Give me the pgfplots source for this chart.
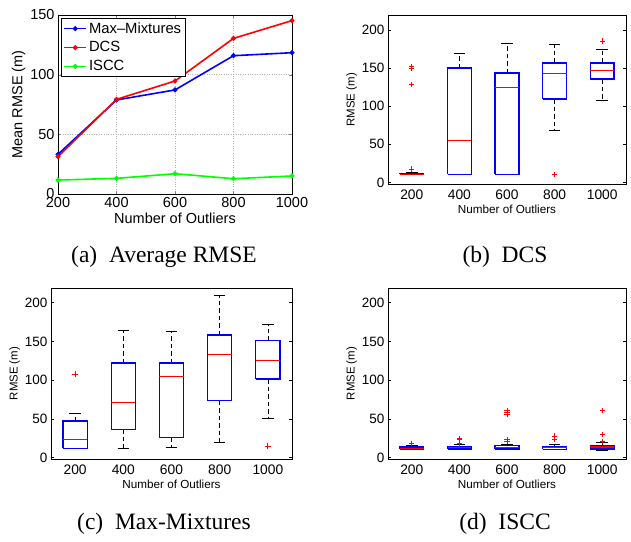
\documentclass[border=0pt]{standalone}
\usepackage{pgfplots}
\pgfplotsset{compat=1.18}
\usepackage{fontspec}
\setmainfont{Liberation Sans}
\newfontfamily\capfont{Liberation Serif}

\pgfplotsset{
  boxaxis/.style={
    anchor=south west, scale only axis,
    width=238pt,
    xmin=0.5, xmax=5.5, ymin=-2, ymax=219,
    xtick={1,2,3,4,5}, xticklabels={200,400,600,800,1000},
    ytick={0,50,100,150,200},
    tick align=inside, ytick pos=both,
    xtick style={draw=none}, ytick style={black, line width=0.5pt},
    major tick length=3pt,
    axis line style={line width=0.9pt},
    unbounded coords=jump,
    /pgf/number format/assume math mode=true,
    xticklabel style={font=\fontsize{13.8}{15}\selectfont, yshift=-2pt},
    yticklabel style={font=\fontsize{13.5}{15}\selectfont},
    xlabel={Number of Outliers}, ylabel={RMSE (m)},
    xlabel style={font=\fontsize{11.7}{13}\selectfont, yshift=1pt},
    ylabel style={font=\fontsize{11.4}{13}\selectfont, yshift=-2pt},
  },
  whisk/.style={black, line width=0.8pt, dash pattern=on 4.5pt off 3pt},
  cap/.style={black, line width=1pt},
  boxes/.style={blue, line width=1.25pt},
  med/.style={red, line width=1.1pt},
  outl/.style={only marks, mark=+, mark size=2.6pt, mark options={red, line width=1pt}},
}

\begin{document}
\begin{tikzpicture}
\path[use as bounding box] (0,0) rectangle (631pt,541pt);

% (a) mean RMSE
\begin{axis}[
  at={(58pt,347pt)}, anchor=south west, scale only axis,
  width=234pt, height=179pt,
  xmin=200, xmax=1000, ymin=0, ymax=150,
  xtick={200,400,600,800,1000}, ytick={0,50,100,150},
  /pgf/number format/1000 sep={},
  /pgf/number format/assume math mode=true,
  grid=major, grid style={dotted, gray!60, line width=0.4pt},
  tick align=inside, tick pos=both, major tick length=3pt,
  axis line style={line width=0.9pt},
  tick label style={font=\fontsize{14.5}{16}\selectfont},
  xlabel={Number of Outliers}, ylabel={Mean RMSE (m)},
  xlabel style={font=\fontsize{14.5}{16}\selectfont, yshift=2pt},
  ylabel style={font=\fontsize{14.5}{16}\selectfont, yshift=-2pt},
  legend style={at={(0.013,0.983)}, anchor=north west, draw=black,
    line width=0.8pt, font=\fontsize{14.8}{16}\selectfont,
    inner sep=2pt, row sep=3pt, cells={anchor=west}},
  legend image code/.code={
    \draw[mark repeat=2, mark phase=2] plot coordinates {(0pt,0pt) (11pt,0pt) (22pt,0pt)};},
]
\addplot[blue, line width=1.6pt, mark=*, mark size=1.6pt] coordinates {
  (200,33.2) (400,78.8) (600,87.2) (800,115.9) (1000,118.4)};
\addlegendentry{Max--Mixtures}
\addplot[red, line width=1.6pt, mark=*, mark size=1.6pt] coordinates {
  (200,31.3) (400,79.3) (600,94.7) (800,130.4) (1000,145.3)};
\addlegendentry{DCS}
\addplot[green, line width=1.6pt, mark=*, mark size=1.6pt] coordinates {
  (200,11.7) (400,13.1) (600,17.0) (800,12.8) (1000,15.1)};
\addlegendentry{ISCC}
\end{axis}

% (b) DCS
\begin{axis}[boxaxis, at={(388pt,357pt)}, height=168.5pt]
% whiskers
\addplot[whisk] coordinates {
  (1,12) (1,12.5) (nan,nan)
  (2,150) (2,169.5) (nan,nan)
  (3,143.5) (3,182.5) (nan,nan)
  (4,156.7) (4,181.2) (nan,nan) (4,109.4) (4,68.7) (nan,nan)
  (5,156.7) (5,174.2) (nan,nan) (5,135.7) (5,107.2)};
% caps
\addplot[cap] coordinates {
  (0.88,12.5) (1.12,12.5) (nan,nan) (0.88,10) (1.12,10) (nan,nan)
  (1.88,169.5) (2.12,169.5) (nan,nan) (1.88,10.5) (2.12,10.5) (nan,nan)
  (2.88,182.5) (3.12,182.5) (nan,nan) (2.88,10.5) (3.12,10.5) (nan,nan)
  (3.88,181.2) (4.12,181.2) (nan,nan) (3.88,68.7) (4.12,68.7) (nan,nan)
  (4.88,174.2) (5.12,174.2) (nan,nan) (4.88,107.2) (5.12,107.2)};
% boxes
\addplot[boxes] coordinates {
  (0.75,10.5) (1.25,10.5) (1.25,12) (0.75,12) (0.75,10.5) (nan,nan)
  (1.75,10.5) (2.25,10.5) (2.25,150) (1.75,150) (1.75,10.5) (nan,nan)
  (2.75,10.5) (3.25,10.5) (3.25,143.5) (2.75,143.5) (2.75,10.5) (nan,nan)
  (3.75,109.4) (4.25,109.4) (4.25,156.7) (3.75,156.7) (3.75,109.4) (nan,nan)
  (4.75,135.7) (5.25,135.7) (5.25,156.7) (4.75,156.7) (4.75,135.7)};
% medians
\addplot[med] coordinates {
  (0.75,11) (1.25,11) (nan,nan) (1.75,55.6) (2.25,55.6) (nan,nan)
  (2.75,124.5) (3.25,124.5) (nan,nan) (3.75,143.5) (4.25,143.5) (nan,nan)
  (4.75,147) (5.25,147)};
% outliers
\addplot[outl] coordinates {(1,152) (1,150) (1,128) (1,17.6) (4,10.9) (5,185.5)};
\end{axis}

% (c) Max-Mixtures
\begin{axis}[boxaxis, at={(51pt,82pt)}, width=241pt, height=171pt]
\addplot[whisk] coordinates {
  (1,47) (1,57) (nan,nan) (1,11.6) (1,11) (nan,nan)
  (2,122) (2,163.8) (nan,nan) (2,36.6) (2,11.6) (nan,nan)
  (3,122) (3,162.9) (nan,nan) (3,26) (3,12.5) (nan,nan)
  (4,158.2) (4,209.5) (nan,nan) (4,73.3) (4,19) (nan,nan)
  (5,150.9) (5,171.6) (nan,nan) (5,101.3) (5,50.9)};
\addplot[cap] coordinates {
  (0.88,57) (1.12,57) (nan,nan) (0.88,11) (1.12,11) (nan,nan)
  (1.88,163.8) (2.12,163.8) (nan,nan) (1.88,11.6) (2.12,11.6) (nan,nan)
  (2.88,162.9) (3.12,162.9) (nan,nan) (2.88,12.5) (3.12,12.5) (nan,nan)
  (3.88,209.5) (4.12,209.5) (nan,nan) (3.88,19) (4.12,19) (nan,nan)
  (4.88,171.6) (5.12,171.6) (nan,nan) (4.88,50.9) (5.12,50.9)};
\addplot[boxes] coordinates {
  (0.75,11.6) (1.25,11.6) (1.25,47) (0.75,47) (0.75,11.6) (nan,nan)
  (1.75,36.6) (2.25,36.6) (2.25,122) (1.75,122) (1.75,36.6) (nan,nan)
  (2.75,26) (3.25,26) (3.25,122) (2.75,122) (2.75,26) (nan,nan)
  (3.75,73.3) (4.25,73.3) (4.25,158.2) (3.75,158.2) (3.75,73.3) (nan,nan)
  (4.75,101.3) (5.25,101.3) (5.25,150.9) (4.75,150.9) (4.75,101.3)};
\addplot[med] coordinates {
  (0.75,22.8) (1.25,22.8) (nan,nan) (1.75,71.6) (2.25,71.6) (nan,nan)
  (2.75,104.7) (3.25,104.7) (nan,nan) (3.75,133.6) (4.25,133.6) (nan,nan)
  (4.75,125) (5.25,125)};
\addplot[outl] coordinates {(1,107.8) (5,14.7)};
\end{axis}

% (d) ISCC
\begin{axis}[boxaxis, at={(388pt,82pt)}, height=171pt]
\addplot[whisk] coordinates {
  (1,13.5) (1,15.5) (nan,nan)
  (2,14.2) (2,16.8) (nan,nan)
  (3,15.5) (3,16.8) (nan,nan)
  (4,14.2) (4,16.8) (nan,nan)
  (5,15.5) (5,19.8)};
\addplot[cap] coordinates {
  (0.88,15.5) (1.12,15.5) (nan,nan) (0.88,10.8) (1.12,10.8) (nan,nan)
  (1.88,16.8) (2.12,16.8) (nan,nan) (1.88,10.8) (2.12,10.8) (nan,nan)
  (2.88,16.8) (3.12,16.8) (nan,nan) (2.88,10.8) (3.12,10.8) (nan,nan)
  (3.88,16.8) (4.12,16.8) (nan,nan) (3.88,9.9) (4.12,9.9) (nan,nan)
  (4.88,19.8) (5.12,19.8) (nan,nan) (4.88,9.5) (5.12,9.5)};
\addplot[boxes] coordinates {
  (0.75,10.8) (1.25,10.8) (1.25,13.5) (0.75,13.5) (0.75,10.8) (nan,nan)
  (1.75,11) (2.25,11) (2.25,14.2) (1.75,14.2) (1.75,11) (nan,nan)
  (2.75,11) (3.25,11) (3.25,15.5) (2.75,15.5) (2.75,11) (nan,nan)
  (3.75,10.5) (4.25,10.5) (4.25,14.2) (3.75,14.2) (3.75,10.5) (nan,nan)
  (4.75,10.8) (5.25,10.8) (5.25,15.5) (4.75,15.5) (4.75,10.8)};
\addplot[med] coordinates {
  (0.75,12) (1.25,12) (nan,nan) (1.75,12.8) (2.25,12.8) (nan,nan)
  (2.75,12.5) (3.25,12.5) (nan,nan) (3.75,12.3) (4.25,12.3) (nan,nan)
  (4.75,13.5) (5.25,13.5)};
\addplot[outl] coordinates {
  (1,18.5) (2,25) (2,23) (2,17.5)
  (3,61.2) (3,58.6) (3,55.6) (3,23.7) (3,21.1)
  (4,27.6) (4,23.7) (5,60.8) (5,30.1) (5,20.7)};
\end{axis}

% sub-captions
\node[font=\capfont\fontsize{23.5}{25}\selectfont] at (164pt,284pt) {(a)\ \ Average RMSE};
\node[font=\capfont\fontsize{23.5}{25}\selectfont] at (505pt,284pt) {(b)\ \ DCS};
\node[font=\capfont\fontsize{23.5}{25}\selectfont] at (164pt,17pt) {(c)\ \ Max-Mixtures};
\node[font=\capfont\fontsize{23.5}{25}\selectfont] at (505pt,17pt) {(d)\ \ ISCC};
\end{tikzpicture}
\end{document}
